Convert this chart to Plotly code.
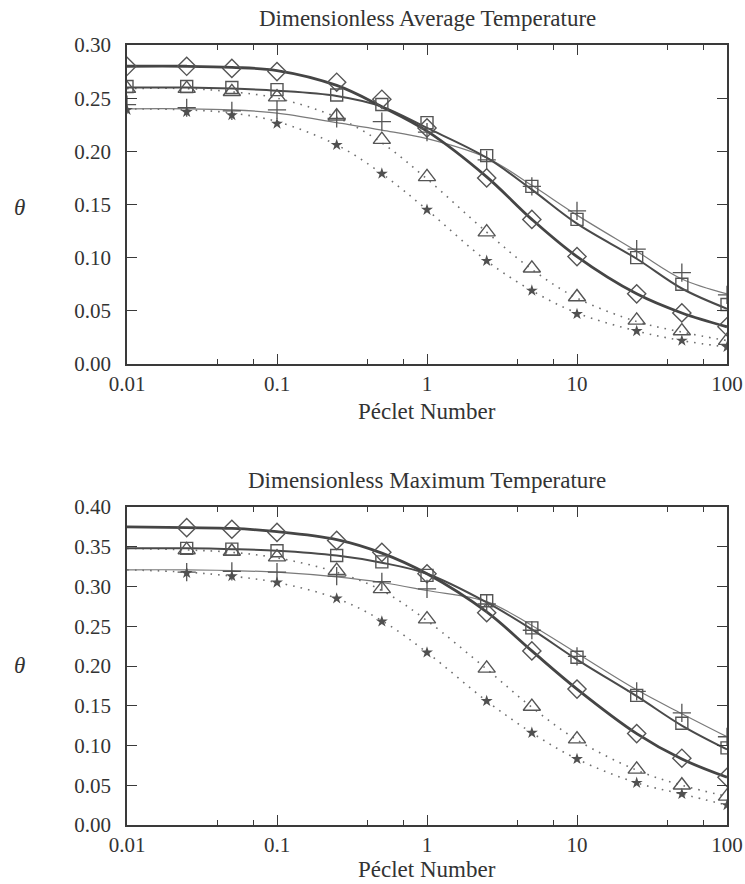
import plotly.graph_objects as go

# ---------------- data ----------------
pe_top = [0.01, 0.025, 0.05, 0.1, 0.25, 0.5, 1, 2.5, 5, 10, 25, 50, 100]
pe_bot = [0.025, 0.05, 0.1, 0.25, 0.5, 1, 2.5, 5, 10, 25, 50, 100]
pe_line = [0.01, 0.025, 0.05, 0.1, 0.25, 0.5, 1, 2.5, 5, 10, 25, 50, 100]

# Top: dimensionless average temperature (markers)
avg_diamond = [0.280, 0.280, 0.278, 0.275, 0.265, 0.249, 0.222, 0.175, 0.136, 0.101, 0.066, 0.048, 0.035]
avg_square = [0.261, 0.261, 0.260, 0.258, 0.253, 0.244, 0.227, 0.196, 0.167, 0.136, 0.100, 0.075, 0.056]
avg_triangle = [0.259, 0.259, 0.256, 0.251, 0.233, 0.211, 0.176, 0.124, 0.090, 0.063, 0.041, 0.031, 0.022]
avg_plus = [0.244, 0.241, 0.238, 0.239, 0.231, 0.228, 0.218, 0.192, 0.167, 0.144, 0.108, 0.086, 0.065]
avg_star = [0.239, 0.237, 0.234, 0.226, 0.206, 0.179, 0.145, 0.097, 0.069, 0.047, 0.031, 0.022, 0.016]
# Top: model curves
avg_thick = [0.280, 0.280, 0.279, 0.276, 0.262, 0.242, 0.219, 0.176, 0.136, 0.101, 0.066, 0.048, 0.035]
avg_medium = [0.260, 0.260, 0.259, 0.257, 0.252, 0.242, 0.222, 0.194, 0.164, 0.132, 0.099, 0.071, 0.052]
avg_thin = [0.240, 0.240, 0.239, 0.236, 0.227, 0.220, 0.212, 0.194, 0.168, 0.140, 0.106, 0.080, 0.066]
avg_dot1 = [0.259, 0.259, 0.256, 0.250, 0.232, 0.208, 0.174, 0.124, 0.089, 0.062, 0.040, 0.030, 0.022]
avg_dot2 = [0.240, 0.239, 0.236, 0.228, 0.206, 0.179, 0.145, 0.097, 0.069, 0.048, 0.031, 0.022, 0.016]

# Bottom: dimensionless maximum temperature (markers)
max_diamond = [0.374, 0.372, 0.368, 0.358, 0.343, 0.316, 0.267, 0.219, 0.171, 0.115, 0.084, 0.060]
max_square = [0.348, 0.347, 0.345, 0.339, 0.331, 0.314, 0.282, 0.248, 0.211, 0.163, 0.128, 0.097]
max_triangle = [0.346, 0.344, 0.337, 0.320, 0.297, 0.259, 0.197, 0.149, 0.108, 0.070, 0.050, 0.036]
max_plus = [0.318, 0.319, 0.318, 0.313, 0.306, 0.297, 0.278, 0.245, 0.212, 0.168, 0.141, 0.111]
max_star = [0.317, 0.313, 0.305, 0.285, 0.256, 0.217, 0.156, 0.116, 0.083, 0.053, 0.039, 0.025]
# Bottom: model curves
max_thick = [0.375, 0.374, 0.373, 0.369, 0.359, 0.342, 0.316, 0.268, 0.219, 0.171, 0.115, 0.083, 0.060]
max_medium = [0.348, 0.348, 0.347, 0.345, 0.339, 0.330, 0.316, 0.280, 0.246, 0.208, 0.162, 0.125, 0.095]
max_thin = [0.321, 0.321, 0.320, 0.318, 0.312, 0.305, 0.295, 0.281, 0.251, 0.216, 0.170, 0.140, 0.111]
max_dot1 = [0.348, 0.346, 0.343, 0.336, 0.318, 0.295, 0.257, 0.196, 0.148, 0.107, 0.069, 0.050, 0.036]
max_dot2 = [0.321, 0.318, 0.313, 0.305, 0.285, 0.257, 0.217, 0.156, 0.116, 0.083, 0.053, 0.039, 0.025]

x_tickvals = [0.01, 0.1, 1, 10, 100]
x_ticktext = ["0.01", "0.1", "1", "10", "100"]
x_minor = [0.04, 0.07, 0.4, 0.7, 4, 7, 40, 70]
y_top_ticks = [0.00, 0.05, 0.10, 0.15, 0.20, 0.25, 0.30]
y_bot_ticks = [0.00, 0.05, 0.10, 0.15, 0.20, 0.25, 0.30, 0.35, 0.40]

# ---------------- figure ----------------
W, H = 745, 884
FONT = "Liberation Serif"
AX = "#3a3a3a"
MK = "#555555"

fig = go.Figure()

def add_panel(xa, ya, pe_m, d, s, t, p, st, thick, medium, thin, dot1, dot2):
    common = dict(xaxis=xa, yaxis=ya, showlegend=False, hoverinfo="skip")
    dotted = dict(color="#707070", width=1.6, dash="1.6px,6px", shape="spline")
    fig.add_trace(go.Scatter(x=pe_line, y=dot1, mode="lines", line=dotted, **common))
    fig.add_trace(go.Scatter(x=pe_line, y=dot2, mode="lines", line=dotted, **common))
    fig.add_trace(go.Scatter(x=pe_line, y=thin, mode="lines",
                             line=dict(color="#7a7a7a", width=1.2, shape="spline"), **common))
    fig.add_trace(go.Scatter(x=pe_line, y=medium, mode="lines",
                             line=dict(color="#4a4a4a", width=2.0, shape="spline"), **common))
    fig.add_trace(go.Scatter(x=pe_line, y=thick, mode="lines",
                             line=dict(color="#454545", width=2.8, shape="spline"), **common))
    fig.add_trace(go.Scatter(x=pe_m, y=d, mode="markers",
                             marker=dict(symbol="diamond-open", size=14, color=MK, line=dict(width=1.4, color=MK)), **common))
    fig.add_trace(go.Scatter(x=pe_m, y=s, mode="markers",
                             marker=dict(symbol="square-open", size=12, color=MK, line=dict(width=1.4, color=MK)), **common))
    fig.add_trace(go.Scatter(x=pe_m, y=t, mode="markers",
                             marker=dict(symbol="triangle-up-open", size=15, color=MK, line=dict(width=1.4, color=MK)), **common))
    fig.add_trace(go.Scatter(x=pe_m, y=p, mode="markers",
                             marker=dict(symbol="cross-thin-open", size=13, color=MK, line=dict(width=1.3, color=MK)), **common))
    fig.add_trace(go.Scatter(x=pe_m, y=st, mode="markers",
                             marker=dict(symbol="star", size=9, color="#505050", line=dict(width=0)), **common))

add_panel("x", "y", pe_top, avg_diamond, avg_square, avg_triangle, avg_plus, avg_star,
          avg_thick, avg_medium, avg_thin, avg_dot1, avg_dot2)
add_panel("x2", "y2", pe_bot, max_diamond, max_square, max_triangle, max_plus, max_star,
          max_thick, max_medium, max_thin, max_dot1, max_dot2)

xdom = [127 / W, 727 / W]
top_dom = [(H - 364) / H, (H - 45) / H]
bot_dom = [(H - 825) / H, (H - 507) / H]

def xaxis_cfg(anchor):
    return dict(type="log", domain=xdom, anchor=anchor, range=[-2, 2], automargin=False,
                tickmode="array", tickvals=x_tickvals, ticktext=x_ticktext,
                ticks="inside", ticklen=10, tickwidth=1.3, tickcolor=AX,
                minor=dict(tickmode="array", tickvals=x_minor, ticks="inside", ticklen=5,
                           tickwidth=1.2, tickcolor=AX, showgrid=False),
                showline=True, linecolor=AX, linewidth=1.5, mirror="allticks",
                showgrid=False, zeroline=False, ticklabelstandoff=0,
                tickfont=dict(family=FONT, size=21, color="#333333"))

def yaxis_cfg(anchor, dom, rng, vals):
    return dict(domain=dom, anchor=anchor, range=rng, automargin=False,
                tickmode="array", tickvals=vals, tickformat=".2f",
                ticks="inside", ticklen=10, tickwidth=1.3, tickcolor=AX,
                showline=True, linecolor=AX, linewidth=1.5, mirror="allticks",
                showgrid=False, zeroline=False, ticklabelstandoff=10,
                tickfont=dict(family=FONT, size=21, color="#333333"))

fig.update_layout(
    width=W, height=H,
    margin=dict(l=0, r=0, t=0, b=0),
    paper_bgcolor="white", plot_bgcolor="white",
    xaxis=xaxis_cfg("y"),
    yaxis=yaxis_cfg("x", top_dom, [0, 0.30], y_top_ticks),
    xaxis2=xaxis_cfg("y2"),
    yaxis2=yaxis_cfg("x2", bot_dom, [0, 0.40], y_bot_ticks),
)

def ann(text, xpx, ypx, size=23, italic=False):
    fig.add_annotation(text=(f"<i>{text}</i>" if italic else text),
                       x=xpx / W, y=1 - ypx / H, xref="paper", yref="paper",
                       xanchor="center", yanchor="middle", showarrow=False,
                       font=dict(family=FONT, size=size, color="#333333"))

ann("Dimensionless Average Temperature", 427, 18)
ann("Péclet Number", 427, 411)
ann("Dimensionless Maximum Temperature", 427, 481)
ann("Péclet Number", 427, 869)
ann("θ", 19, 207, size=23, italic=True)
ann("θ", 19, 665, size=23, italic=True)

fig.write_html(
    "out.html",
    config={"displayModeBar": False},
    post_script="document.body.style.margin='0';document.body.style.overflow='hidden';",
)
